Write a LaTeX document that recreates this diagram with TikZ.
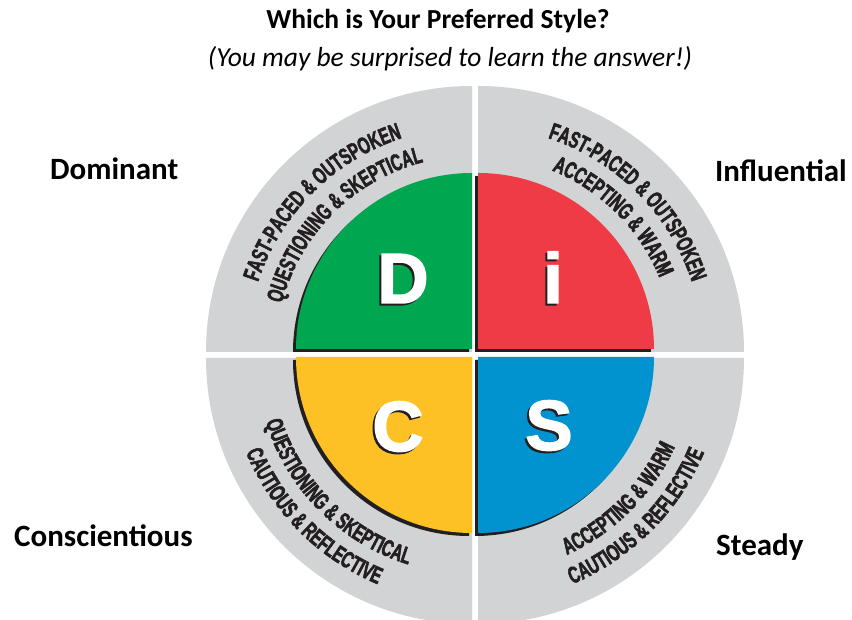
\documentclass[tikz,border=0pt]{standalone}
\usepackage{fontspec}
\setmainfont{Carlito}
\newfontfamily\arcfont[FakeStretch=0.64,FakeBold=2.2]{Liberation Sans}
\newfontfamily\letterfont[FakeBold=2]{Liberation Sans}
\usetikzlibrary{decorations.text}
\definecolor{discgreen}{HTML}{00A650}
\definecolor{discred}{HTML}{EE3B45}
\definecolor{discyellow}{HTML}{FDC125}
\definecolor{discblue}{HTML}{0093D0}
\definecolor{discgray}{HTML}{D1D3D4}
\definecolor{disctxt}{HTML}{231F20}
\tikzset{
  graybox/.style={fill=discgray},
  shadowfill/.style={fill=disctxt},
  letternode/.style={anchor=base, inner sep=0pt, font=\letterfont\bfseries\fontsize{71}{71}\selectfont},
  labelnode/.style={anchor=base west, inner sep=0pt, font=\bfseries\fontsize{31}{31}\selectfont},
  arctext/.style={decorate, decoration={text along path, text align=center,
      text={|\arcfont\bfseries\fontsize{23.5}{23.5}\selectfont\color{disctxt}|#1}}}
}
\begin{document}
\begin{tikzpicture}[x=1pt,y=1pt]
\useasboundingbox (0,0) rectangle (852,620);
\fill[white] (0,0) rectangle (852,620);
% gray outer quadrants
\fill[graybox] (472,268) -- ++(180:266) arc[start angle=180,end angle=90,radius=266] -- cycle;
\fill[graybox] (478,268) -- ++(90:266) arc[start angle=90,end angle=0,radius=266] -- cycle;
\fill[graybox] (472,262) -- ++(180:266) arc[start angle=180,end angle=270,radius=266] -- cycle;
\fill[graybox] (478,262) -- ++(270:266) arc[start angle=270,end angle=360,radius=266] -- cycle;
% shadows
\fill[shadowfill] (469,268) -- ++(180:176) arc[start angle=180,end angle=90,radius=176] -- cycle;
\fill[shadowfill] (475,268) -- ++(90:176) arc[start angle=90,end angle=0,radius=176] -- cycle;
\fill[shadowfill] (469,260) -- ++(180:176) arc[start angle=180,end angle=270,radius=176] -- cycle;
\fill[shadowfill] (475,260) -- ++(270:176) arc[start angle=270,end angle=360,radius=176] -- cycle;
% coloured quadrants
\fill[discgreen] (472,271) -- ++(180:176) arc[start angle=180,end angle=90,radius=176] -- cycle;
\fill[discred] (478,271) -- ++(90:176) arc[start angle=90,end angle=0,radius=176] -- cycle;
\fill[discyellow] (472,263) -- ++(180:176) arc[start angle=180,end angle=270,radius=176] -- cycle;
\fill[discblue] (478,263) -- ++(270:176) arc[start angle=270,end angle=360,radius=176] -- cycle;
% letters with shadows
\node[letternode, text=disctxt] (dsh) at (401,315) {D};
\node[letternode, text=white] (dl) at (403,317) {D};
\node[letternode, text=disctxt] (ish) at (551,315) {i};
\node[letternode, text=white] (il) at (553,317) {i};
\node[letternode, text=disctxt] (csh) at (396,167) {C};
\node[letternode, text=white] (cl) at (398,169) {C};
\node[letternode, text=disctxt] (ssh) at (547,168) {S};
\node[letternode, text=white] (sl) at (549,170) {S};
% curved texts
\path[shift={(472,268)}, arctext={FAST-PACED {\&} OUTSPOKEN}] (180:225) arc[start angle=180,end angle=90,radius=225];
\path[shift={(472,268)}, arctext={QUESTIONING {\&} SKEPTICAL}] (180:196) arc[start angle=180,end angle=90,radius=196];
\path[shift={(478,268)}, arctext={FAST-PACED {\&} OUTSPOKEN}] (90:225) arc[start angle=90,end angle=0,radius=225];
\path[shift={(478,268)}, arctext={ACCEPTING {\&} WARM}] (90:196) arc[start angle=90,end angle=0,radius=196];
\path[shift={(472,262)}, arctext={CAUTIOUS {\&} REFLECTIVE}] (180:245) arc[start angle=180,end angle=270,radius=245];
\path[shift={(472,262)}, arctext={QUESTIONING {\&} SKEPTICAL}] (180:216) arc[start angle=180,end angle=270,radius=216];
\path[shift={(478,262)}, arctext={CAUTIOUS {\&} REFLECTIVE}] (270:245) arc[start angle=270,end angle=360,radius=245];
\path[shift={(478,262)}, arctext={ACCEPTING {\&} WARM}] (270:216) arc[start angle=270,end angle=360,radius=216];
% titles
\node[anchor=base, inner sep=0pt, font=\bfseries\fontsize{27.5}{27.5}\selectfont] (title) at (438,591) {Which is Your Preferred Style?};
\node[anchor=base, inner sep=0pt, font=\itshape\fontsize{27.5}{27.5}\selectfont] (subtitle) at (450,553) {(You may be surprised to learn the answer!)};
% labels
\node[labelnode] (dom) at (50,440) {Dominant};
\node[labelnode] (inf) at (715,438) {Influential};
\node[labelnode] (con) at (14,73) {Conscientious};
\node[labelnode] (ste) at (716,64) {Steady};
\end{tikzpicture}
\end{document}
